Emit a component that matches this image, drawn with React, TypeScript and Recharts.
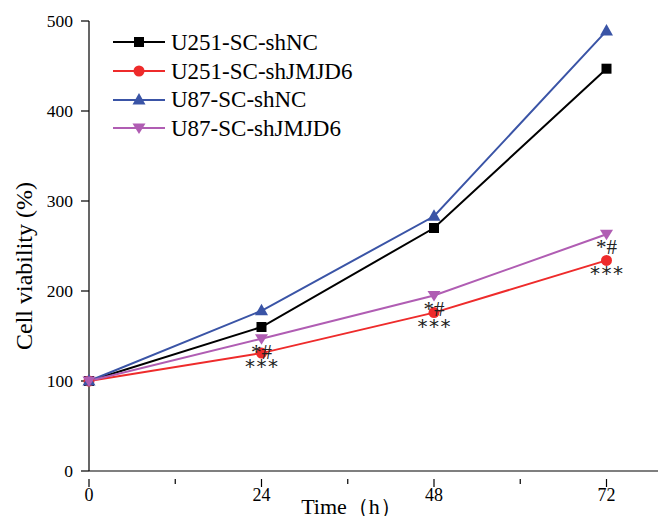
import { LabelList, Line, LineChart, XAxis, YAxis } from "recharts";

const HOURS = [0, 24, 48, 72];
const U251_SHNC = [100, 160, 270, 447];
const U251_SHJMJD6 = [100, 131, 176, 234];
const U87_SHNC = [100, 178, 283, 489];
const U87_SHJMJD6 = [100, 147, 195, 263];
// significance marks under the knock-down points
const HASH_MARKS = ["", "*#", "*#", "*#"];
const STAR_MARKS = ["", "***", "***", "***"];

const X_TICKS = [0, 12, 24, 36, 48, 60, 72];
const X_LABELED = [0, 24, 48, 72];
const Y_TICKS = [0, 100, 200, 300, 400, 500];

const FONT = "'Liberation Serif', 'Times New Roman', serif";
const STAR_FONT = "'DejaVu Sans', sans-serif";

type Shape = "square" | "circle" | "triangle" | "down";

const SERIES: ReadonlyArray<{ key: string; name: string; color: string; shape: Shape }> = [
  { key: "u251nc", name: "U251-SC-shNC", color: "#000000", shape: "square" },
  { key: "u251kd", name: "U251-SC-shJMJD6", color: "#ee2b2b", shape: "circle" },
  { key: "u87nc", name: "U87-SC-shNC", color: "#3a54a6", shape: "triangle" },
  { key: "u87kd", name: "U87-SC-shJMJD6", color: "#b05db3", shape: "down" },
];

const data = HOURS.map((h, i) => ({
  hour: h,
  u251nc: U251_SHNC[i],
  u251kd: U251_SHJMJD6[i],
  u87nc: U87_SHNC[i],
  u87kd: U87_SHJMJD6[i],
  hash: HASH_MARKS[i],
  stars: STAR_MARKS[i],
}));

function Marker({ cx, cy, shape, color }: { cx: number; cy: number; shape: Shape; color: string }) {
  if (shape === "square") {
    return <rect x={cx - 5} y={cy - 5} width={10} height={10} fill={color} />;
  }
  if (shape === "circle") {
    return <circle cx={cx} cy={cy} r={5.5} fill={color} />;
  }
  if (shape === "triangle") {
    return <polygon points={`${cx},${cy - 7} ${cx + 6.5},${cy + 4.5} ${cx - 6.5},${cy + 4.5}`} fill={color} />;
  }
  return <polygon points={`${cx},${cy + 6} ${cx + 6.5},${cy - 4.5} ${cx - 6.5},${cy - 4.5}`} fill={color} />;
}

function markerDot(shape: Shape, color: string) {
  return (props: any) => {
    const { cx, cy, index } = props;
    if (cx == null || cy == null) return <g key={index} />;
    return <Marker key={index} cx={cx} cy={cy} shape={shape} color={color} />;
  };
}

function markText(dy: number, spacing: number, size: number, family: string) {
  return (props: any) => {
    const { x, y, value } = props;
    if (!value) return null;
    return (
      <text
        x={Number(x) + spacing / 2}
        y={Number(y) + dy}
        textAnchor="middle"
        fontFamily={family}
        fontSize={size}
        letterSpacing={spacing}
        fill="#222"
      >
        {value}
      </text>
    );
  };
}

function XTick({ x, y, payload }: any) {
  const labeled = X_LABELED.includes(payload.value);
  return (
    <g transform={`translate(${x}, ${y})`}>
      <line x1={0} y1={0} x2={0} y2={labeled ? 8 : 5} stroke="#000" strokeWidth={1.2} />
      {labeled && (
        <text x={0} y={22} textAnchor="middle" fontFamily={FONT} fontSize={18} fill="#000">
          {payload.value}
        </text>
      )}
    </g>
  );
}

function YTitle({ viewBox }: any) {
  const cy = viewBox.y + viewBox.height / 2 + 20;
  return (
    <text
      x={24}
      y={cy}
      transform={`rotate(-90, 24, ${cy})`}
      textAnchor="middle"
      dominantBaseline="central"
      fontFamily={FONT}
      fontSize={24}
      fill="#000"
    >
      Cell viability (%)
    </text>
  );
}

function XTitle({ viewBox }: any) {
  const cx = viewBox.x + viewBox.width / 2 - 25;
  return (
    <text x={cx} y={viewBox.y + 43} textAnchor="middle" fontFamily={FONT} fontSize={22} fill="#000">
      Time（h）
    </text>
  );
}

function LegendBox() {
  return (
    <div
      style={{
        position: "absolute",
        left: 113,
        top: 28,
        fontFamily: FONT,
        fontSize: 23,
        color: "#000",
        lineHeight: 1,
      }}
    >
      {SERIES.map((s) => (
        <div key={s.key} style={{ display: "flex", alignItems: "center", height: 28.7 }}>
          <svg width={58} height={20} style={{ flex: "none" }}>
            <line x1={0} y1={10} x2={52} y2={10} stroke={s.color} strokeWidth={2} />
            <Marker cx={26} cy={10} shape={s.shape} color={s.color} />
          </svg>
          <span style={{ whiteSpace: "nowrap" }}>{s.name}</span>
        </div>
      ))}
    </div>
  );
}

export default function App() {
  return (
    <div style={{ position: "absolute", left: 0, top: 0, width: 658, height: 516, overflow: "hidden", background: "#fff" }}>
      <LineChart
        width={672}
        height={516}
        data={data}
        margin={{ top: 21, right: 8, bottom: 0, left: 0 }}
      >
        <XAxis
          dataKey="hour"
          type="number"
          domain={[0, 80]}
          ticks={X_TICKS}
          interval={0}
          height={45}
          axisLine={{ stroke: "#000", strokeWidth: 1.2 }}
          tickLine={false}
          tick={<XTick />}
          label={<XTitle />}
        />
        <YAxis
          type="number"
          domain={[0, 500]}
          ticks={Y_TICKS}
          interval={0}
          width={89}
          axisLine={{ stroke: "#000", strokeWidth: 1.2 }}
          tickLine={{ stroke: "#000", strokeWidth: 1.2 }}
          tickSize={8}
          tickMargin={8}
          tick={{ fontFamily: FONT, fontSize: 17.5, fill: "#000" }}
          label={<YTitle />}
        />
        {SERIES.map((s) => (
          <Line
            key={s.key}
            dataKey={s.key}
            name={s.name}
            stroke={s.color}
            strokeWidth={2}
            dot={markerDot(s.shape, s.color)}
            activeDot={false}
            isAnimationActive={false}
          >
            {s.key === "u251kd" && <LabelList dataKey="stars" content={markText(20, 1.5, 20, STAR_FONT)} />}
            {s.key === "u87kd" && <LabelList dataKey="hash" content={markText(20, 0, 21, FONT)} />}
          </Line>
        ))}
      </LineChart>
      <LegendBox />
    </div>
  );
}
